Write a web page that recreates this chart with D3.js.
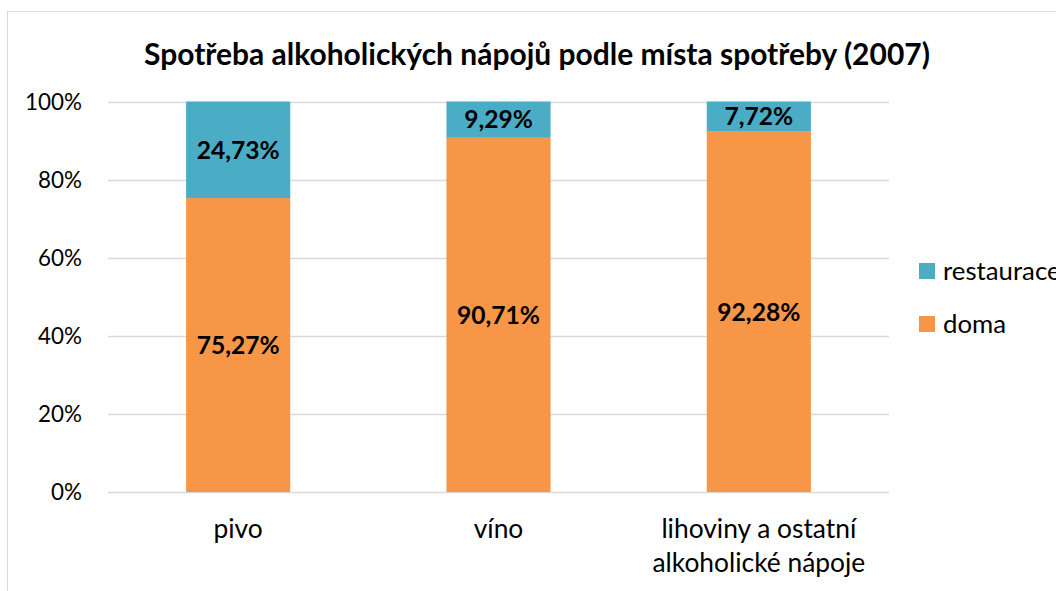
<!DOCTYPE html>
<html><head><meta charset="utf-8">
<script src="https://cdn.jsdelivr.net/npm/d3@7"></script>
<style>body{margin:0;background:#fff;overflow:hidden;} text{font-family:Lato,"Open Sans",sans-serif;fill:#000;}</style>
</head><body><svg id="c" width="1056" height="591"></svg>
<script>
const categories = [["pivo"], ["víno"], ["lihoviny a ostatní", "alkoholické nápoje"]];
const catKeys = ["pivo", "víno", "lihoviny"];
const doma = [75.27, 90.71, 92.28];
const restaurace = [24.73, 9.29, 7.72];
const seriesNames = ["doma", "restaurace"];
const seriesColors = ["#F79646", "#4BACC6"];
const yTicks = [0, 20, 40, 60, 80, 100];
const title = "Spotřeba alkoholických nápojů podle místa spotřeby (2007)";

const svg = d3.select("#c");
function fitSize(sample, fs, target, bold){
  const tmp = svg.append("text").attr("font-size",fs).attr("font-weight",bold?"bold":null).text(sample);
  const w = tmp.node().getComputedTextLength(); tmp.remove();
  return fs*target/w;
}
const fsTitle = fitSize(title, 22, 786, true);
const fsTick = fitSize("100%", 19, 57, false);
const fsCat = fitSize("lihoviny a ostatní", 19, 195, false);
const fsLab = fitSize("24,73%", 21, 83, true);
const fsLeg = fitSize("doma", 20, 63, false);

// frame
svg.append("rect").attr("x",7.5).attr("y",11.5).attr("width",1060).attr("height",600)
  .attr("fill","none").attr("stroke","#d9d9d9").attr("stroke-width",1);

const x = d3.scaleBand().domain(catKeys).range([108, 889]).paddingInner(0.6).paddingOuter(0.3);
const y = d3.scaleLinear().domain([0,100]).range([492, 101.5]);

// gridlines
svg.append("g").selectAll("line").data(yTicks).join("line")
  .attr("x1",108).attr("x2",889).attr("y1",d=>Math.round(y(d))+0.5).attr("y2",d=>Math.round(y(d))+0.5)
  .attr("stroke","#d9d9d9").attr("stroke-width",1.5);

// y axis labels
const yAxis = d3.axisLeft(y).tickValues(yTicks).tickFormat(d=>d+"%").tickSize(0).tickPadding(0);
const ya = svg.append("g").attr("transform","translate(82,0)").call(yAxis);
ya.select(".domain").remove();
ya.selectAll("text").attr("font-size",fsTick).attr("font-family","Lato,sans-serif").attr("fill","#000").attr("dy","0.35em");

// stacked bars
const stackData = catKeys.map((k,i)=>({key:k, doma:doma[i], restaurace:restaurace[i]}));
const stack = d3.stack().keys(seriesNames)(stackData);
const layers = svg.append("g").selectAll("g").data(stack).join("g").attr("fill",(d,i)=>seriesColors[i]);
layers.selectAll("rect").data(d=>d).join("rect")
  .attr("x",d=>x(d.data.key)).attr("width",x.bandwidth())
  .attr("y",d=>y(d[1])).attr("height",d=>y(d[0])-y(d[1]));

// data labels
const fmt = v => v.toFixed(2).replace(".",",")+"%";
layers.selectAll("text").data(d=>d).join("text")
  .attr("x",d=>x(d.data.key)+x.bandwidth()/2).attr("y",d=>(y(d[0])+y(d[1]))/2)
  .attr("text-anchor","middle").attr("dy","0.36em").attr("font-weight","bold").attr("font-size",fsLab)
  .style("fill","#000").text(d=>fmt(d[1]-d[0]));

// x labels
const xl = svg.append("g").selectAll("text").data(catKeys).join("text")
  .attr("x",d=>x(d)+x.bandwidth()/2).attr("y",529).attr("dy","0.35em").attr("text-anchor","middle").attr("font-size",fsCat);
xl.selectAll("tspan").data((d,i)=>categories[i]).join("tspan")
  .attr("x",function(){return this.parentNode.getAttribute("x");}).attr("dy",(d,i)=>i?34:"0.35em").text(d=>d);

// legend
const leg = svg.append("g");
[["restaurace",1,271],["doma",0,324]].forEach(([n,ci,cy])=>{
  leg.append("rect").attr("x",919).attr("y",cy-8).attr("width",16).attr("height",16).attr("fill",seriesColors[ci]);
  leg.append("text").attr("x",943).attr("y",cy).attr("dy","0.35em").attr("font-size",fsLeg).text(n);
});

// title
svg.append("text").attr("x",537).attr("y",55).attr("text-anchor","middle").attr("dy","0.35em")
  .attr("font-weight","bold").attr("font-size",fsTitle).text(title);
</script></body></html>
